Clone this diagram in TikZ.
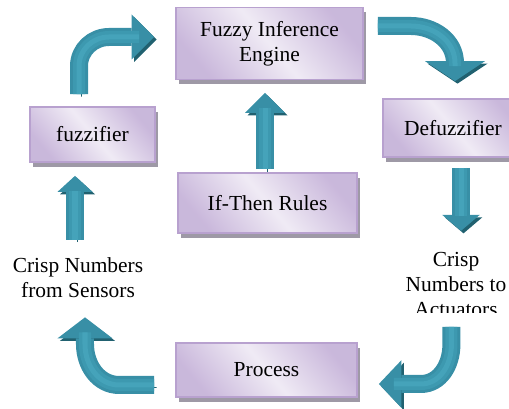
\documentclass[tikz,border=0pt]{standalone}
\usepackage{fontspec}
\setmainfont{Liberation Serif}
\usepackage{xcolor}
\usepackage{tikz}
\usetikzlibrary{positioning}
\usetikzlibrary{calc}
\usetikzlibrary{arrows.meta, shadows}
\definecolor{boxlight}{rgb}{0.94, 0.92, 0.96}
\definecolor{boxdark}{rgb}{0.79, 0.72, 0.86}
\definecolor{boxline}{rgb}{0.72, 0.63, 0.81}
\definecolor{boxshadow}{rgb}{0.62, 0.60, 0.65}
\definecolor{tealarrow}{rgb}{0.22, 0.56, 0.65}
\definecolor{tealmid}{rgb}{0.24, 0.60, 0.69}
\definecolor{teallight}{rgb}{0.27, 0.64, 0.73}
\definecolor{tealedge}{rgb}{0.13, 0.38, 0.44}
\tikzstyle{block} = [rectangle, draw=boxline, line width=1pt, top color=boxdark, bottom color=boxdark, middle color=boxlight, shading angle=-50, drop shadow={shadow xshift=0.06cm, shadow yshift=-0.1cm, fill=boxshadow, opacity=1}, font=\fontsize{12.2}{14.2}\selectfont, align=center, inner sep=0pt]
\tikzstyle{note} = [align=center, font=\fontsize{12.2}{14.2}\selectfont, inner sep=0pt]
\tikzstyle{flow} = [line width=0.36cm, draw=tealarrow, preaction={draw=tealedge, transform canvas={shift={(0.05,-0.05)}}}, postaction={draw=tealmid, line width=0.24cm, arrows=-, shorten >=0.3cm}, postaction={draw=teallight, line width=0.1cm, arrows=-, shorten >=0.3cm}]

\begin{document}
\begin{tikzpicture}
\clip (0,0) rectangle (10.18,8.18);
\node[block, minimum width=3.74cm, minimum height=1.44cm] (engine) at (5.39,7.31) {Fuzzy Inference\\Engine};
\node[block, minimum width=2.5cm, minimum height=1.1cm] (fuzz) at (1.85,5.49) {fuzzifier};
\node[block, minimum width=2.8cm, minimum height=1.16cm] (defuzz) at (9.06,5.62) {Defuzzifier};
\node[block, minimum width=3.58cm, minimum height=1.2cm] (rules) at (5.35,4.12) {If-Then Rules};
\node[block, minimum width=3.62cm, minimum height=1.08cm] (process) at (5.33,0.78) {Process};
\node[note] (sens) at (1.56,2.63) {Crisp Numbers\\from Sensors};
\begin{scope}
\clip (8,1.92) rectangle (10.18,3.3);
\node[note] (act) at (9.12,2.49) {Crisp\\Numbers to\\Actuators};
\end{scope}
% fuzzifier -> engine
\draw[flow, -{Triangle[width=0.9cm,length=0.45cm,line width=0pt]}] ($(fuzz.north)+(-0.27,0.24)$)
 -- ($(fuzz.north)+(-0.27,0.8)$)
 to[out=90,in=180] ($(engine.west)+(-1.32,0.13)$)
 -- ($(engine.west)+(-0.42,0.13)$);
% engine -> defuzzifier
\draw[flow, -{Triangle[width=1.2cm,length=0.4cm,line width=0pt]}] ($(engine.east)+(0.28,0.35)$)
 -- ($(engine.east)+(0.94,0.35)$)
 to[out=0,in=90] ($(defuzz.north)+(0.04,0.7)$)
 -- ($(defuzz.north)+(0.04,0.34)$);
% rules -> engine
\draw[flow, -{Triangle[width=0.8cm,length=0.4cm,line width=0pt]}] ($(rules.north)+(-0.05,0.06)$)
 -- ($(rules.north |- engine.south)+(-0.05,-0.25)$);
% defuzzifier -> actuators
\draw[flow, -{Triangle[width=0.75cm,length=0.32cm,line width=0pt]}] ($(defuzz.south)+(0.16,-0.2)$)
 -- ($(defuzz.south)+(0.16,-1.46)$);
% actuators -> process
\draw[flow, -{Triangle[width=0.95cm,length=0.45cm,line width=0pt]}] ($(process.east)+(1.87,0.86)$)
 -- ($(process.east)+(1.87,0.5)$)
 to[out=270,in=0] ($(process.east)+(1.26,-0.28)$)
 -- ($(process.east)+(0.42,-0.28)$);
% process -> sensors
\draw[flow, -{Triangle[width=1.1cm,length=0.42cm,line width=0pt]}] ($(process.west)+(-0.42,-0.3)$)
 -- ($(process.west)+(-1.12,-0.3)$)
 to[out=180,in=270] ($(sens.south)+(0.14,-0.93)$)
 -- ($(sens.south)+(0.14,-0.39)$);
% sensors -> fuzzifier
\draw[flow, -{Triangle[width=0.7cm,length=0.32cm,line width=0pt]}] ($(sens.north)+(-0.06,0.35)$)
 -- ($(fuzz.south)+(-0.35,-0.26)$);
\end{tikzpicture}
\end{document}
